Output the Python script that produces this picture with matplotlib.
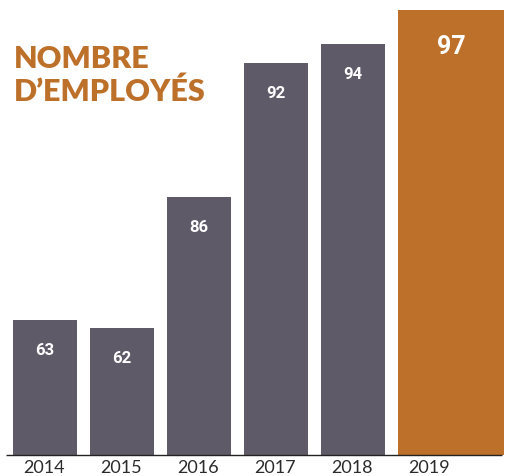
import matplotlib
matplotlib.use("Agg")
import matplotlib.pyplot as plt
import numpy as np

years = ["2014", "2015", "2016", "2017", "2018", "2019"]
employees = [63, 62, 86, 92, 94, 97]
# drawn bar heights (percent of tallest bar) - the original is not to scale
bar_heights = [30.3, 28.5, 58.0, 88.1, 92.4, 100.0]

GREY = "#5f5a68"
ORANGE = "#bd7029"

fig = plt.figure(figsize=(5.16, 4.76), dpi=100)
ax = fig.add_axes([0, 0, 1, 1])
ax.set_axis_off()

x = np.arange(len(years))
widths = [0.83] * (len(years) - 1) + [1.38]
colors = [GREY] * (len(years) - 1) + [ORANGE]
ax.bar(x - 0.415, bar_heights, width=widths, align="edge", color=colors, linewidth=0)
ax.hlines(0, -0.5, 5.94, color="#222222", linewidth=1.0)

for i, (h, v) in enumerate(zip(bar_heights, employees)):
    last = i == len(years) - 1
    cx = x[i] - 0.415 + widths[i] / 2
    ax.text(cx, h - (8.3 if last else 6.8), str(v), ha="center", va="center",
            color="white", fontsize=18 if last else 12, fontweight="bold",
            family="Roboto")

for i, year in enumerate(years):
    ax.text(i * 1.0 - 0.01, -2.9, year, ha="center", va="center",
            color="#2b2b2b", fontsize=13, family="Lato", fontweight="normal")

ax.set_xlim(-0.584, 6.117)
ax.set_ylim(-4.72, 102.25)

fig.text(14 / 516, 0.857, "NOMBRE", color=ORANGE, fontsize=22,
         fontweight="heavy", family="Lato", va="baseline")
fig.text(14 / 516, 0.788, "D\u2019EMPLOYÉS", color=ORANGE, fontsize=22,
         fontweight="heavy", family="Lato", va="baseline")

fig.savefig("out.png", dpi=100)
